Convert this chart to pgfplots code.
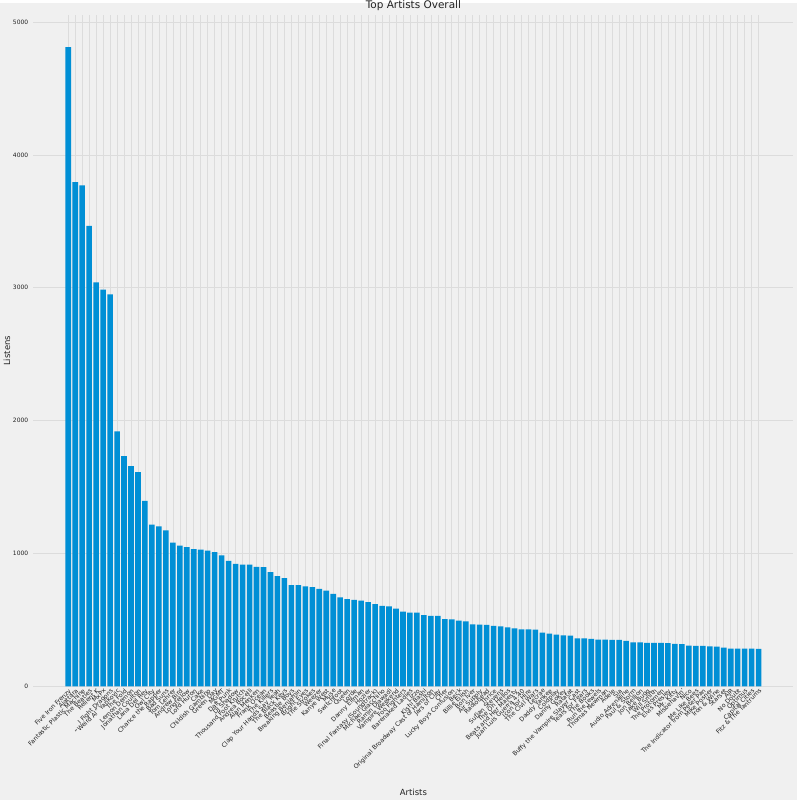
\documentclass[border=0pt]{standalone}
\usepackage{fontspec}
\setmainfont{DejaVu Sans}
\usepackage{pgfplots}
\usepackage{pgfplotstable}
\pgfplotsset{compat=1.18}
\definecolor{bg}{HTML}{F0F0F0}
\definecolor{barc}{HTML}{008FD5}
\definecolor{gridc}{HTML}{DCDCDC}
\definecolor{txt}{HTML}{222222}
\pgfplotstableread{
x y
0 4810
1 3795
2 3770
3 3465
4 3040
5 2985
6 2950
7 1920
8 1733
9 1658
10 1612
11 1396
12 1217
13 1204
14 1175
15 1082
16 1060
17 1048
18 1034
19 1030
20 1022
21 1010
22 987
23 945
24 922
25 917
26 917
27 900
28 898
29 860
30 830
31 815
32 762
33 762
34 752
35 747
36 735
37 720
38 697
39 670
40 657
41 652
42 645
43 635
44 620
45 607
46 602
47 585
48 562
49 555
50 555
51 537
52 530
53 530
54 507
55 505
56 495
57 490
58 467
59 466
60 464
61 455
62 452
63 445
64 437
65 430
66 430
67 427
68 405
69 397
70 390
71 385
72 383
73 362
74 362
75 357
76 352
77 352
78 350
79 350
80 342
81 332
82 332
83 327
84 327
85 327
86 325
87 320
88 318
89 307
90 305
91 305
92 302
93 300
94 292
95 285
96 285
97 285
98 285
99 282
}\listens
\begin{document}
\begin{tikzpicture}[x=1pt,y=1pt]
\fill[bg] (0,0) rectangle (800,800);
\begin{axis}[
  at={(33.5pt,114pt)}, anchor=south west,
  scale only axis, width=763pt, height=673.7pt,
  xmin=-5, xmax=104, ymin=0, ymax=5050,
  ybar, bar width=5.6pt,
  axis line style={draw=none},
  major tick length=0pt,
  grid=major,
  grid style={color=gridc, line width=0.6pt},
  ytick={0,1000,2000,3000,4000,5000},
  scaled y ticks=false,
  /pgf/number format/1000 sep={},
  /pgf/number format/assume math mode=true,
  yticklabel style={font=\fontsize{6}{7}\selectfont, text=txt, inner sep=1pt, xshift=-4pt},
  xtick=data,
  xticklabel style={font=\fontsize{6.2}{7}\selectfont, text=txt, rotate=45, anchor=north east, inner sep=1pt},
  xticklabels={Five Iron Frenzy, Ajattara, Fantastic Plastic Machine, The Beatles, Relient K, MxPx, I Fight Dragons, "Weird Al" Yankovic, The Fold, Lemon Demon, Jonathan Coulton, Lana Del Rey, Owl City, Chance the Rapper, Bad Suns, Tom Lehrer, Andrew Bird, Longfellow, Lord Huron, Cake, Childish Gambino, Green Day, MGMT, Daft Punk, DJ Shadow, Thousand Foot Krutch, Andrea Bocelli, Alan Menken, Frank Ocean, The Killers, Clap Your Hands Say Yeah, The Black Keys, Beastie Boys, Breaking Benjamin, Bright Eyes, The Strokes, Weezer, Kanye West, Muse, Switchfoot, Queen, Lorde, Danny Elfman, Hozier, Final Fantasy (Soundtrack), Michael Giacchino, Ramin Djawadi, Vampire Weekend, Foo Fighters, Barenaked Ladies, Lizzo, Kishi Bashi, Original Broadway Cast of Hamilton, Jars of Clay, Cher, Lucky Boys Confusion, Beck, Billie Eilish, Bon Iver, Air Supply, Radiohead, Thrice, Sufjan Stevens, The Oh Hellos, Beats and Her Majesty, Juan Luis Guerra 4.40, Icon for Hire, The Civil Wars, Lecrae, Daddy Yankee, Coldplay, Danny Gokey, Ratatat, Buffy the Vampire Slayer Cast, Tears for Fears, The Books, Run the Jewels, Thomas Newman, Adele, Sia, Audio Adrenaline, Paul \& Storm, Jon Bellion, Jake Bugg, Will Smith, The Protomen, Elvis Presley, Mr. Kitty, Misbehavin', Nico, Me Like Bees, The Indicator from Peter Pan, Mike Posner, Iron \& Wine, Starset, AJR, No Doubt, Optimus, Capital Cities, Fitz \& The Tantrums},
  title={Top Artists Overall},
  title style={font=\fontsize{10.5}{12}\selectfont, text=txt, at={(0.5,1)}, anchor=south, inner sep=1pt, yshift=-3pt},
  xlabel={Artists},
  xlabel style={font=\fontsize{8.5}{10}\selectfont, text=txt, at={(axis description cs:0.5,-0.1575)}, anchor=center},
  ylabel={Listens},
  ylabel style={font=\fontsize{8.5}{10}\selectfont, text=txt, at={(axis description cs:-0.0347,0.5)}, anchor=center},
]
\addplot[fill=barc, draw=none] table[x=x, y=y] {\listens};
\end{axis}
\end{tikzpicture}
\end{document}
